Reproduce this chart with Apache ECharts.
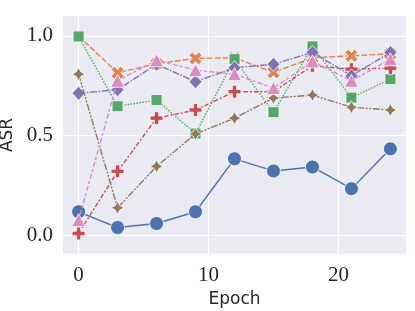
<!DOCTYPE html>
<html>
<head>
<meta charset="utf-8">
<script src="https://cdn.jsdelivr.net/npm/echarts@6/dist/echarts.min.js"></script>
<style>html,body{margin:0;padding:0;background:#fff}#c{width:415px;height:311px}</style>
</head>
<body>
<div id="c"></div>
<script>
const epochs = [0, 3, 6, 9, 12, 15, 18, 21, 24];
const s1 = [0.117, 0.038, 0.058, 0.117, 0.383, 0.322, 0.342, 0.233, 0.433];
const s2 = [1.0, 0.815, 0.86, 0.887, 0.89, 0.817, 0.89, 0.90, 0.91];
const s3 = [0.997, 0.647, 0.678, 0.51, 0.883, 0.617, 0.947, 0.69, 0.783];
const s4 = [0.008, 0.32, 0.587, 0.628, 0.72, 0.72, 0.85, 0.833, 0.838];
const s5 = [0.712, 0.73, 0.858, 0.77, 0.84, 0.858, 0.917, 0.80, 0.917];
const s6 = [0.808, 0.137, 0.345, 0.508, 0.587, 0.688, 0.703, 0.642, 0.628];
const s7 = [0.075, 0.775, 0.878, 0.828, 0.808, 0.738, 0.872, 0.775, 0.883];
const xTicks = [0, 10, 20];
const yTicks = [0.0, 0.5, 1.0];

const colors = ['#4c72b0', '#dd8452', '#55a868', '#c44e52', '#8172b3', '#937860', '#da8bc3'];
const XPATH = 'path://M25,0L50,25L75,0L100,25L75,50L100,75L75,100L50,75L25,100L0,75L25,50L0,25Z';
const PLUS = 'path://M2,0H4V2H6V4H4V6H2V4H0V2H2Z';
const STAR = 'path://M100,0L135.4,64.6L200,100L135.4,135.4L100,200L64.6,135.4L0,100L64.6,64.6Z';
const specs = [
  {d: s1, sym: 'circle', size: 14, dash: 'solid'},
  {d: s2, sym: XPATH, size: 13, dash: [6, 2]},
  {d: s3, sym: 'rect', size: 11, dash: [1.5, 1.5]},
  {d: s4, sym: PLUS, size: 13, dash: [4.5, 2, 2, 2]},
  {d: s5, sym: 'diamond', size: [13, 14], dash: [7, 1.5, 1.5, 1.5]},
  {d: s6, sym: STAR, size: 13, dash: [7, 1.5, 2, 1.5, 2, 1.5]},
  {d: s7, sym: 'triangle', size: [14, 13], dash: [3, 2.5, 5, 2]}
];
const series = specs.map((s, i) => ({
  type: 'line',
  name: 'S' + (i + 1),
  data: epochs.map((e, j) => [e, s.d[j]]),
  symbol: s.sym,
  symbolSize: s.size,
  showAllSymbol: true,
  z: 2 + i,
  lineStyle: {color: colors[i], width: 1.4, type: s.dash},
  itemStyle: {color: colors[i], borderColor: '#ffffff', borderWidth: 0.8, opacity: 1},
  emphasis: {disabled: true},
  animation: false
}));

const chart = echarts.init(document.getElementById('c'), null, {renderer: 'canvas'});
chart.setOption({
  backgroundColor: '#ffffff',
  animation: false,
  grid: {left: 63, right: 9, top: 16, bottom: 57, show: true, backgroundColor: '#eaeaf2', borderWidth: 0,
         containLabel: false, outerBoundsMode: 'none'},
  xAxis: {
    type: 'value', min: -1.2, max: 25.2,
    name: 'Epoch', nameLocation: 'middle', nameGap: 33,
    nameTextStyle: {fontFamily: 'DejaVu Sans', fontSize: 17, color: '#262626'},
    axisLine: {show: false},
    axisTick: {show: false, customValues: xTicks},
    axisLabel: {
      fontFamily: 'Liberation Serif', fontSize: 21, color: '#262626', margin: 11,
      customValues: xTicks,
      formatter: v => String(v)
    },
    splitLine: {show: true, lineStyle: {color: '#ffffff', width: 1.2}}
  },
  yAxis: {
    type: 'value', min: -0.095, max: 1.1,
    name: 'ASR', nameLocation: 'middle', nameGap: 43,
    nameTextStyle: {fontFamily: 'DejaVu Sans', fontSize: 17, color: '#262626'},
    axisLine: {show: false},
    axisTick: {show: false, customValues: yTicks},
    axisLabel: {
      fontFamily: 'Liberation Serif', fontSize: 21, color: '#262626', margin: 10,
      customValues: yTicks,
      formatter: v => Number(v).toFixed(1)
    },
    splitLine: {show: true, lineStyle: {color: '#ffffff', width: 1.2}}
  },
  series: series
});
</script>
</body>
</html>
